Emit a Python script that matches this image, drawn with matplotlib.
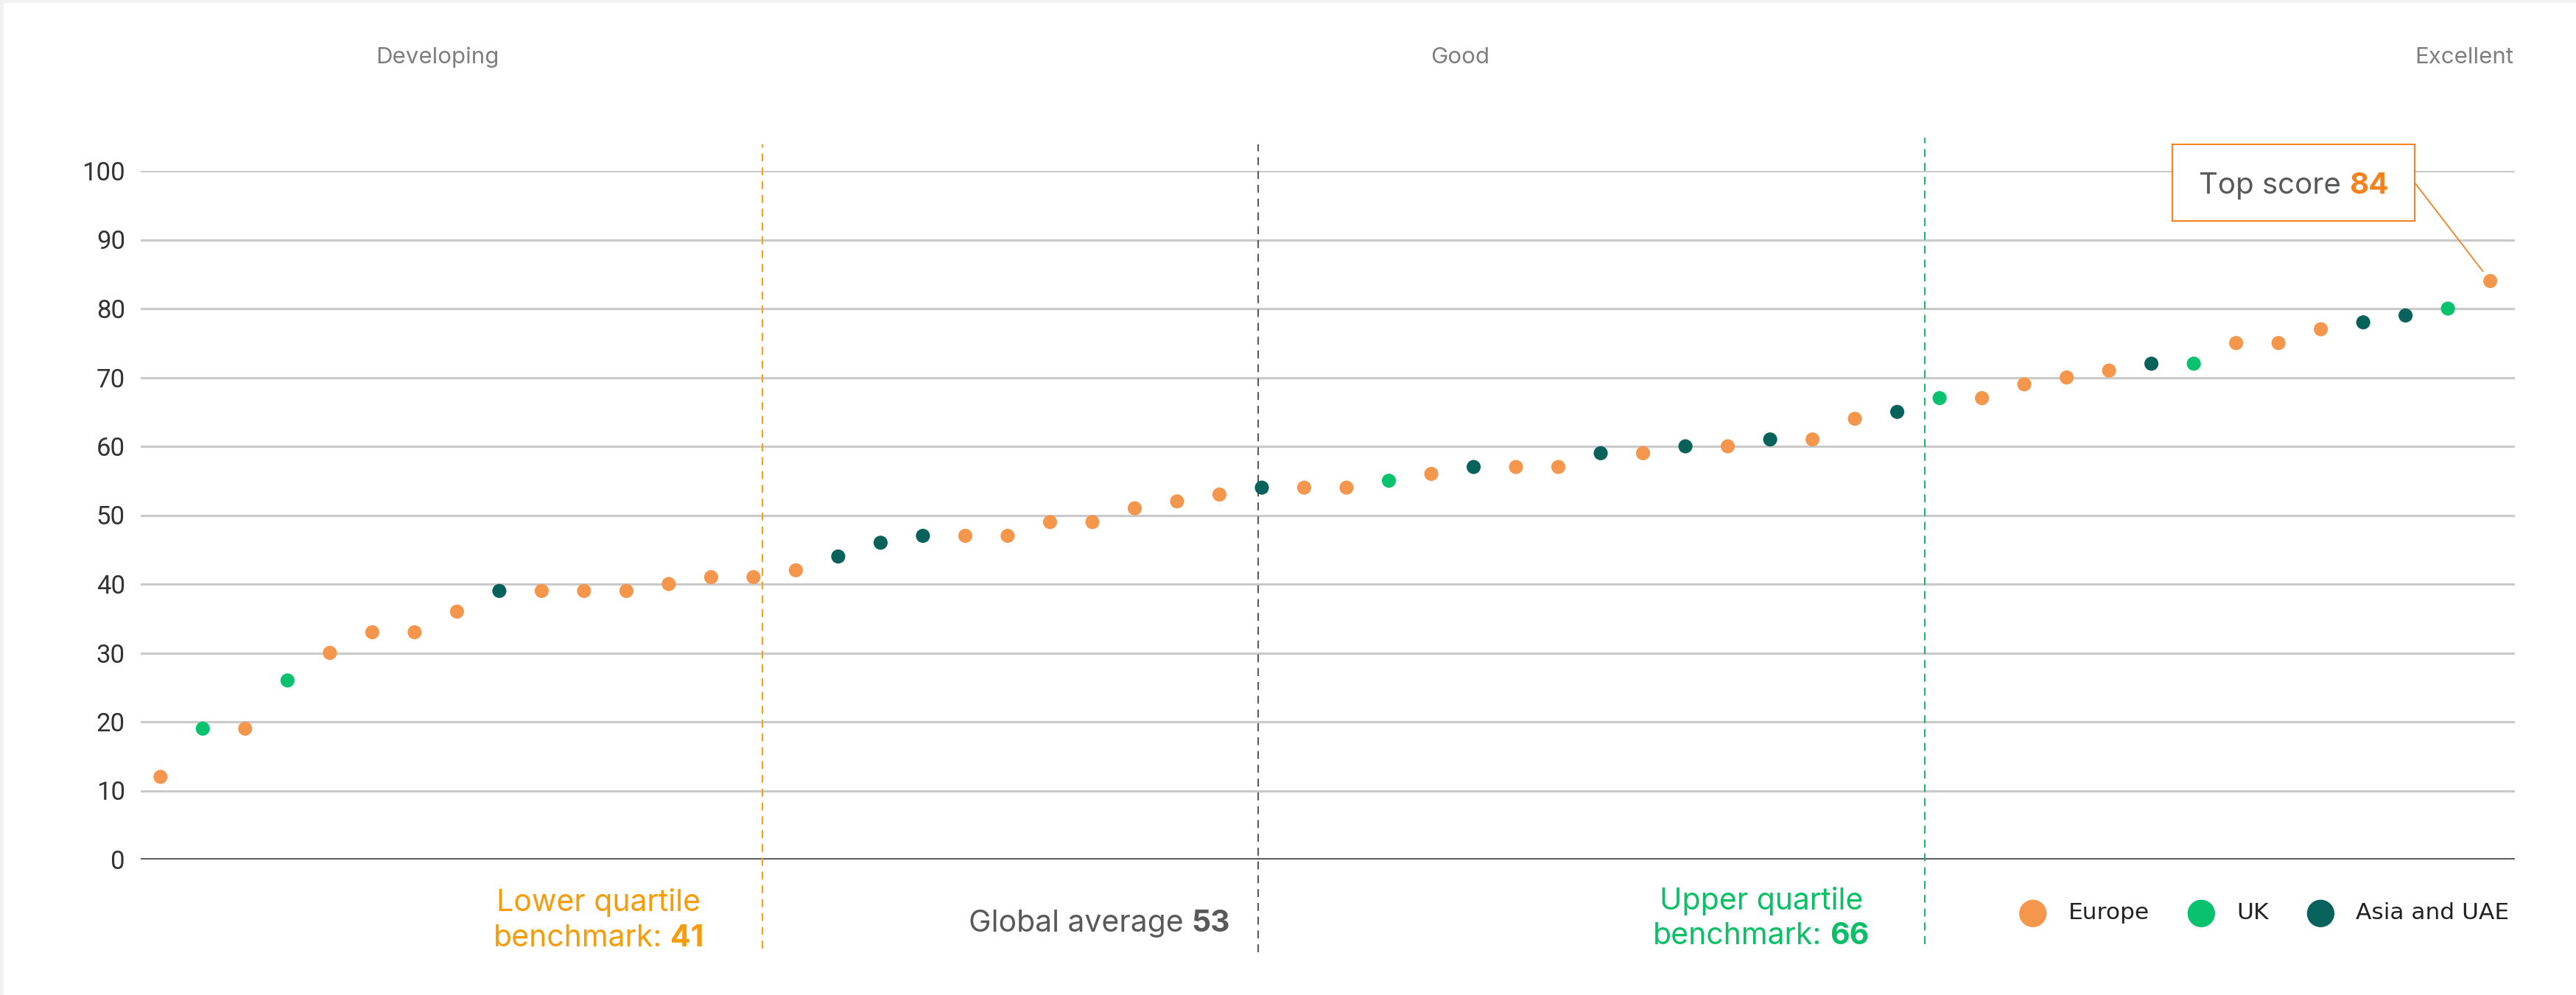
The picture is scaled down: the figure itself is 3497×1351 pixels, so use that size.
import numpy as np
import matplotlib.pyplot as plt
from matplotlib.patches import Rectangle

W, H, DPI = 3497, 1351, 100

# scores, sorted low to high, with the region each one belongs to
scores = [12, 19, 19, 26, 30, 33, 33, 36, 39, 39, 39, 39, 40, 41, 41, 42,
          44, 46, 47, 47, 47, 49, 49, 51, 52, 53, 54, 54, 54, 55, 56, 57,
          57, 57, 59, 59, 60, 60, 61, 61, 64, 65, 67, 67, 69, 70, 71, 72,
          72, 75, 75, 77, 78, 79, 80, 84]
region_codes = list("EUEUEEEEAEEEEEEEAAAEEEEEEEAEEUEAEEAEAEAEEAUEEEEAUEEEAAUE")
region_names = {"E": "Europe", "U": "UK", "A": "Asia and UAE"}
region_colors = {"E": "#F4964C", "U": "#08C26D", "A": "#08625C"}

bands = ["Developing", "Good", "Excellent"]
lower_quartile = 41
global_average = 53
upper_quartile = 66
assert len(scores) == len(region_codes)

# --- layout (pixels) ---
BAND_X = [594, 1982, 3345]
BENCH_X = [14.21, 25.91, 41.65]          # x position of the dashed markers
BENCH_SPAN = [(-12.9, 103.9), (-13.5, 103.9), (-12.3, 104.8)]
BENCH_COLORS = ["#F7A01E", "#5A5A5A", "#1FB46F"]

plt.rcParams["font.family"] = ["Inter", "DejaVu Sans"]

fig = plt.figure(figsize=(W / DPI, H / DPI), dpi=DPI)
fig.patch.set_facecolor("white")


def fx(x):
    return x / W


def fy(y):
    return 1 - y / H


# thin grey frame along top and left
fig.patches.append(Rectangle((0, fy(4)), 1, 4 / H, transform=fig.transFigure,
                             facecolor="#F1F1F1", edgecolor="none", zorder=-1))
fig.patches.append(Rectangle((0, 0), 5 / W, 1, transform=fig.transFigure,
                             facecolor="#F1F1F1", edgecolor="none", zorder=-1))

ax = fig.add_axes([fx(190.8), fy(1167), fx(3414) - fx(190.8), fy(232) - fy(1167)])
x = np.arange(len(scores))
y = np.array(scores)
codes = np.array(region_codes)

ax.set_xlim(-0.47, 55.58)
ax.set_ylim(0, 100)
for s in ax.spines.values():
    s.set_visible(False)
ax.set_xticks([])
ax.set_yticks(range(0, 101, 10))
ax.tick_params(axis="y", length=0, pad=15, labelsize=25, labelcolor="#333333")
for lab in ax.get_yticklabels():
    lab.set_fontfamily(["Roboto", "DejaVu Sans"])
ax.yaxis.grid(True, color="#CACACA", linewidth=2.3, zorder=0)
ax.set_axisbelow(True)
ax.axhline(0, color="#4A4A4A", linewidth=2.6, zorder=1)

for bx, (lo, hi), c in zip(BENCH_X, BENCH_SPAN, BENCH_COLORS):
    ax.plot([bx, bx], [lo, hi], color=c, linewidth=1.5,
            linestyle=(0, (5.2, 3.8)), clip_on=False, zorder=2)

handles = []
for code in ["E", "U", "A"]:
    m = codes == code
    h = ax.scatter(x[m], y[m], s=190, color=region_colors[code],
                   edgecolors="none", zorder=3, label=region_names[code])
    handles.append(h)

renderer = fig.canvas.get_renderer()


def rich_line(xp, yp, parts, ha="left", size=29.5, gap=0.27):
    """Draw text pieces with different weights/colours on one baseline."""
    arts = []
    for s, kw in parts:
        arts.append(fig.text(0, fy(yp), s, va="baseline", fontsize=size, **kw))
    widths = [a.get_window_extent(renderer).width for a in arts]
    space = gap * size * DPI / 72
    total = sum(widths) + space * (len(arts) - 1)
    start = {"left": xp, "center": xp - total / 2, "right": xp - total}[ha]
    for a, w in zip(arts, widths):
        a.set_x(fx(start))
        start += w + space
    return arts


# band names along the top
for name, bx in zip(bands, BAND_X):
    fig.text(fx(bx), fy(86), name, ha="center", va="baseline",
             fontsize=22.5, color="#7F7F7F")

orange_txt = "#F59C0C"
green_txt = "#0BBF66"
grey_txt = "#595959"

rich_line(813, 1237, [("Lower quartile", dict(color=orange_txt))], ha="center")
rich_line(813, 1285, [("benchmark:", dict(color=orange_txt)),
                      (str(lower_quartile), dict(color=orange_txt, fontweight="bold"))],
          ha="center")
rich_line(1670, 1265, [("Global average", dict(color=grey_txt)),
                       (str(global_average), dict(color=grey_txt, fontweight="bold"))],
          ha="right")
rich_line(2391, 1235, [("Upper quartile", dict(color=green_txt))], ha="center")
rich_line(2391, 1282, [("benchmark:", dict(color=green_txt)),
                       (str(upper_quartile), dict(color=green_txt, fontweight="bold"))],
          ha="center")

# top score call-out
top_i = int(np.argmax(y))
box = Rectangle((fx(2949), fy(300)), fx(3278) - fx(2949), fy(196) - fy(300),
                transform=fig.transFigure, facecolor="white",
                edgecolor="#F58220", linewidth=1.5, zorder=5)
fig.patches.append(box)
for a in rich_line(2985, 263, [("Top score", dict(color=grey_txt)),
                               (str(y[top_i]), dict(color="#F5821F", fontweight="bold"))],
                   size=29):
    a.set_zorder(6)
ax.annotate("", xy=(x[top_i], y[top_i]), xycoords="data",
            xytext=(fx(3278), fy(248)), textcoords="figure fraction",
            arrowprops=dict(arrowstyle="-", color="#F58220", linewidth=1.3,
                            shrinkA=0, shrinkB=12),
            annotation_clip=False)

leg = fig.legend(handles=handles, loc="center left",
                 bbox_to_anchor=(fx(2741), fy(1240)), ncol=3, frameon=False,
                 fontsize=22.5, markerscale=1.95, handlelength=1.2,
                 handletextpad=0.94, columnspacing=1.65, borderpad=0,
                 borderaxespad=0)
for t in leg.get_texts():
    t.set_fontfamily("DejaVu Sans")
    t.set_color("#222222")

fig.savefig("out.png", dpi=DPI)
